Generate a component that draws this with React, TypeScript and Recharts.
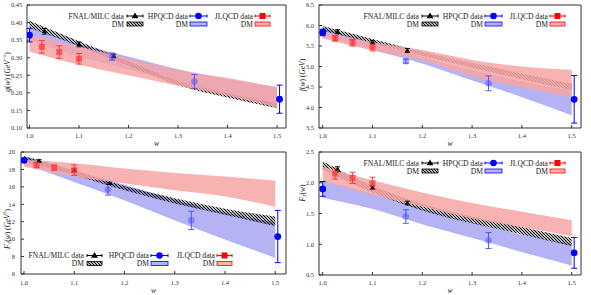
import React from "react";
import { ComposedChart, Area, Scatter, ErrorBar, XAxis, YAxis } from "recharts";

const bandW = [1.0, 1.1, 1.2, 1.3, 1.4, 1.5];
const wTicks = [1.0, 1.1, 1.2, 1.3, 1.4, 1.5];
const fnalW = [1.03, 1.1, 1.17];
const hpqcdW = [1.0, 1.167, 1.333, 1.505];
const jlqcdW = [1.025, 1.06, 1.1];

// g(w)
const gTicks = [0.1, 0.15, 0.2, 0.25, 0.3, 0.35, 0.4, 0.45];
const gFnal = [0.375, 0.338, 0.305];
const gFnalErr = [0.008, 0.007, 0.005];
const gHpqcd = [0.364, 0.303, 0.232, 0.182];
const gHpqcdErr = [0.019, 0.01, 0.02, 0.04];
const gJlqcd = [0.331, 0.316, 0.297];
const gJlqcdErr = [0.018, 0.018, 0.015];
const gFnalBand = [[0.385, 0.405], [0.333, 0.347], [0.277, 0.29], [0.222, 0.234], [0.187, 0.199], [0.157, 0.17]];
const gHpqcdBand = [[0.35, 0.385], [0.305, 0.338], [0.268, 0.302], [0.232, 0.266], [0.198, 0.238], [0.165, 0.216]];
const gJlqcdBand = [[0.318, 0.366], [0.28, 0.332], [0.25, 0.298], [0.22, 0.265], [0.192, 0.242], [0.158, 0.216]];

// f(w)
const fTicks = [3.5, 4.0, 4.5, 5.0, 5.5, 6.0, 6.5];
const fFnal = [5.85, 5.59, 5.39];
const fFnalErr = [0.05, 0.04, 0.05];
const fHpqcd = [5.83, 5.13, 4.59, 4.2];
const fHpqcdErr = [0.08, 0.05, 0.18, 0.58];
const fJlqcd = [5.69, 5.58, 5.48];
const fJlqcdErr = [0.07, 0.08, 0.1];
const fFnalBand = [[5.87, 5.99], [5.57, 5.67], [5.26, 5.36], [4.97, 5.09], [4.69, 4.83], [4.42, 4.58]];
const fHpqcdBand = [[5.77, 5.92], [5.42, 5.57], [5.08, 5.22], [4.67, 4.9], [4.26, 4.62], [3.82, 4.4]];
const fJlqcdBand = [[5.68, 5.84], [5.39, 5.59], [5.15, 5.4], [4.76, 5.16], [4.49, 5.0], [4.25, 4.92]];

// F1(w)
const f1Ticks = [6, 8, 10, 12, 14, 16, 18, 20];
const f1Fnal = [18.97, 17.9, 16.4];
const f1FnalErr = [0.15, 0.15, 0.12];
const f1Hpqcd = [19.05, 15.7, 12.15, 10.3];
const f1HpqcdErr = [0.22, 0.65, 1.05, 3.0];
const f1Jlqcd = [18.5, 18.2, 17.9];
const f1JlqcdErr = [0.3, 0.3, 0.6];
const f1FnalBand = [[18.9, 19.5], [17.35, 17.85], [15.6, 16.1], [14.1, 14.7], [12.8, 13.5], [11.5, 12.6]];
const f1HpqcdBand = [[18.7, 19.5], [16.6, 17.9], [14.5, 16.2], [12.2, 14.5], [10.0, 13.0], [7.9, 11.9]];
const f1JlqcdBand = [[18.3, 19.1], [17.2, 18.7], [16.4, 18.1], [15.6, 17.6], [14.9, 17.2], [13.7, 16.7]];

// F2(w)
const f2Ticks = [0.5, 1.0, 1.5, 2.0, 2.5];
const f2Fnal = [2.22, 1.92, 1.67];
const f2FnalErr = [0.04, 0.03, 0.03];
const f2Hpqcd = [1.9, 1.45, 1.06, 0.86];
const f2HpqcdErr = [0.12, 0.11, 0.13, 0.25];
const f2Jlqcd = [2.15, 2.08, 1.99];
const f2JlqcdErr = [0.09, 0.09, 0.1];
const f2FnalBand = [[2.21, 2.35], [1.84, 1.95], [1.55, 1.66], [1.34, 1.45], [1.16, 1.28], [0.97, 1.1]];
const f2HpqcdBand = [[1.76, 2.03], [1.58, 1.82], [1.33, 1.57], [1.11, 1.35], [0.88, 1.15], [0.66, 1.0]];
const f2JlqcdBand = [[2.03, 2.26], [1.8, 2.04], [1.61, 1.84], [1.42, 1.67], [1.28, 1.53], [1.13, 1.39]];

const AXIS = "#333";
const BLUE = "#0000ff";
const RED = "#ff0000";
const BAND_BLUE = "#8282ee";
const BAND_RED = "#f7a4a4";
const FONT = "'Liberation Serif', 'DejaVu Serif', serif";

const topLegend = {
  rows: [16, 24],
  cols: [
    { tx: 124, x1: 127, x2: 143 },
    { tx: 188, x1: 190, x2: 207 },
    { tx: 253, x1: 255, x2: 270 },
  ],
};
const bottomLegend = {
  rows: [108.5, 116.5],
  cols: [
    { tx: 84, x1: 87, x2: 102 },
    { tx: 149, x1: 151, x2: 168 },
    { tx: 215, x1: 217, x2: 232 },
  ],
};

// black diagonal hatch used for the FNAL/MILC DM band
const GlobalPatterns = () => (
  <svg width={0} height={0} style={{ position: "absolute", left: 0, top: 0 }}>
    <defs>
      <pattern id="dmHatch" width={3} height={3} patternUnits="userSpaceOnUse">
        <path d="M0,0 L3,3 M-1,2 L1,4 M2,-1 L4,1" stroke="#000" strokeWidth={1.1} fill="none" />
      </pattern>
    </defs>
  </svg>
);

const triShape = (s: number, color: string) => (props: any) => {
  const { cx, cy } = props;
  return <path d={`M${cx},${cy - s} L${cx + s * 0.95},${cy + s * 0.6} L${cx - s * 0.95},${cy + s * 0.6} Z`} fill={color} />;
};
const circleShape = (r: number, color: string, op = 1) => (props: any) => (
  <circle cx={props.cx} cy={props.cy} r={r} fill={color} fillOpacity={op} />
);
const squareShape = (s: number, color: string, op = 1) => (props: any) => (
  <rect x={props.cx - s / 2} y={props.cy - s / 2} width={s} height={s} fill={color} fillOpacity={op} />
);

function LegendOverlay({ leg }: { leg: typeof topLegend }) {
  const [r1, r2] = leg.rows;
  const names = ["FNAL/MILC data", "HPQCD data", "JLQCD data"];
  const colors = ["#000", BLUE, RED];
  const fills = ["url(#dmHatch)", BAND_BLUE, BAND_RED];
  const ops = [1, 0.6, 0.85];
  return (
    <g fontFamily={FONT} fontSize={7.6} fill="#222">
      {leg.cols.map((c, i) => {
        const mid = (c.x1 + c.x2) / 2;
        return (
          <g key={i}>
            <text x={c.tx} y={r1} textAnchor="end" dominantBaseline="central">{names[i]}</text>
            <line x1={c.x1} y1={r1} x2={c.x2} y2={r1} stroke={colors[i]} strokeWidth={1} />
            <line x1={c.x1} y1={r1 - 1.5} x2={c.x1} y2={r1 + 1.5} stroke={colors[i]} strokeWidth={1} />
            <line x1={c.x2} y1={r1 - 1.5} x2={c.x2} y2={r1 + 1.5} stroke={colors[i]} strokeWidth={1} />
            {i === 0 && triShape(3.6, "#000")({ cx: mid, cy: r1 })}
            {i === 1 && circleShape(3.3, BLUE)({ cx: mid, cy: r1 })}
            {i === 2 && squareShape(6, RED)({ cx: mid, cy: r1 })}
            <text x={c.tx} y={r2} textAnchor="end" dominantBaseline="central">DM</text>
            <rect x={c.x1} y={r2 - 2} width={c.x2 - c.x1} height={4} fill={fills[i]} fillOpacity={ops[i]} stroke={colors[i]} strokeWidth={0.8} />
          </g>
        );
      })}
    </g>
  );
}

type Cfg = {
  id: string;
  left: number;
  top: number;
  width: number;
  height: number;
  yAxisW: number;
  xAxisH: number;
  yTickMargin: number;
  xTickMargin: number;
  wOffset: number;
  xDomain: [number, number];
  yDomain: [number, number];
  yTicks: number[];
  yDigits: number;
  fnal: number[];
  fnalErr: number[];
  hpqcd: number[];
  hpqcdErr: number[];
  jlqcd: number[];
  jlqcdErr: number[];
  fnalBand: number[][];
  hpqcdBand: number[][];
  jlqcdBand: number[][];
  legend: typeof topLegend;
  yLabel: React.ReactNode;
  yLabelCY: number;
};

function Panel({ p }: { p: Cfg }) {
  const rows = bandW.map((w, i) => ({ w, fnal: p.fnalBand[i], hpqcd: p.hpqcdBand[i], jlqcd: p.jlqcdBand[i] }));
  const mk = (ws: number[], vs: number[], es: number[]) => ws.map((w, i) => ({ w, v: vs[i], e: es[i] }));
  const fnal = mk(fnalW, p.fnal, p.fnalErr);
  const hp = mk(hpqcdW, p.hpqcd, p.hpqcdErr);
  const hpEdge = hp.filter((d) => d.w <= 1.0 || d.w >= 1.5);
  const hpMid = hp.filter((d) => d.w > 1.0 && d.w < 1.5);
  const jl = mk(jlqcdW, p.jlqcd, p.jlqcdErr);
  const tick = { fontSize: 6.5, fill: "#333", fontFamily: FONT };

  return (
    <div style={{ position: "absolute", left: p.left, top: p.top, width: p.width, height: p.height }}>
      <ComposedChart
        width={p.width}
        height={p.height}
        data={rows}
        margin={{ top: 4, right: p.width === 296 ? 9 : 8, bottom: 0, left: 0 }}
      >
        <XAxis
          dataKey="w"
          type="number"
          domain={p.xDomain}
          allowDataOverflow
          ticks={wTicks}
          tickFormatter={(v: number) => v.toFixed(1)}
          height={p.xAxisH}
          tick={tick}
          tickSize={-3}
          tickMargin={p.xTickMargin}
          axisLine={{ stroke: AXIS }}
          tickLine={{ stroke: AXIS }}
          label={{ value: "w", position: "insideBottom", offset: p.wOffset, fontStyle: "italic", fontSize: 7.5, fill: "#222", fontFamily: FONT }}
        />
        <XAxis
          xAxisId="top"
          orientation="top"
          type="number"
          domain={p.xDomain}
          allowDataOverflow
          ticks={wTicks}
          height={1}
          tick={false}
          tickSize={-3}
          axisLine={{ stroke: AXIS }}
          tickLine={{ stroke: AXIS }}
        />
        <YAxis
          type="number"
          domain={p.yDomain}
          allowDataOverflow
          ticks={p.yTicks}
          tickFormatter={(v: number) => v.toFixed(p.yDigits)}
          width={p.yAxisW}
          tick={tick}
          tickSize={-3}
          tickMargin={p.yTickMargin}
          axisLine={{ stroke: AXIS }}
          tickLine={{ stroke: AXIS }}
        />
        <YAxis
          yAxisId="right"
          orientation="right"
          type="number"
          domain={p.yDomain}
          allowDataOverflow
          ticks={p.yTicks}
          width={1}
          tick={false}
          tickSize={-3}
          axisLine={{ stroke: AXIS }}
          tickLine={{ stroke: AXIS }}
        />
        <Area dataKey="hpqcd" type="monotone" fill={BAND_BLUE} fillOpacity={0.6} stroke="#9a9aff" strokeWidth={0.5} isAnimationActive={false} />
        <Area dataKey="fnal" type="monotone" fill="url(#dmHatch)" fillOpacity={1} stroke="none" isAnimationActive={false} />
        <Area dataKey="jlqcd" type="monotone" fill={BAND_RED} fillOpacity={0.85} stroke="none" isAnimationActive={false} />
        <Scatter data={fnal} dataKey="v" shape={triShape(2.6, "#000")} isAnimationActive={false}>
          <ErrorBar dataKey="e" direction="y" width={2.5} stroke="#000" strokeWidth={0.9} />
        </Scatter>
        <Scatter data={jl} dataKey="v" shape={squareShape(6, "#ff3a3a", 0.75)} isAnimationActive={false}>
          <ErrorBar dataKey="e" direction="y" width={3} stroke="#ff3030" strokeWidth={0.9} />
        </Scatter>
        <Scatter data={hpMid} dataKey="v" shape={circleShape(3.3, "#5050ff", 0.5)} isAnimationActive={false}>
          <ErrorBar dataKey="e" direction="y" width={3} stroke="#4848ff" strokeWidth={0.9} />
        </Scatter>
        <Scatter data={hpEdge} dataKey="v" shape={circleShape(3.4, BLUE)} isAnimationActive={false}>
          <ErrorBar dataKey="e" direction="y" width={3} stroke={BLUE} strokeWidth={1} />
        </Scatter>
      </ComposedChart>
      <svg width={p.width} height={p.height} style={{ position: "absolute", left: 0, top: 0, pointerEvents: "none" }}>
        <text
          transform={`translate(7,${p.yLabelCY}) rotate(-90)`}
          textAnchor="middle"
          dominantBaseline="central"
          fontFamily={FONT}
          fontSize={7.5}
          fill="#222"
        >
          {p.yLabel}
        </text>
        <LegendOverlay leg={p.legend} />
      </svg>
    </div>
  );
}

const it = (s: string) => <tspan fontStyle="italic">{s}</tspan>;

const panels: Cfg[] = [
  {
    id: "pg", left: 0, top: 0, width: 295, height: 147, yAxisW: 27, xAxisH: 19,
    yTickMargin: 7.7, xTickMargin: 8.5, wOffset: 1.5,
    xDomain: [0.995, 1.518], yDomain: [0.1, 0.45], yTicks: gTicks, yDigits: 2,
    fnal: gFnal, fnalErr: gFnalErr, hpqcd: gHpqcd, hpqcdErr: gHpqcdErr, jlqcd: gJlqcd, jlqcdErr: gJlqcdErr,
    fnalBand: gFnalBand, hpqcdBand: gHpqcdBand, jlqcdBand: gJlqcdBand,
    legend: topLegend, yLabelCY: 72,
    yLabel: (<>{it("g")}({it("w")}) ({it("GeV")}<tspan dy={-3} fontSize={5}>−1</tspan><tspan dy={3}>)</tspan></>),
  },
  {
    id: "pf", left: 295, top: 0, width: 296, height: 147, yAxisW: 24, xAxisH: 19,
    yTickMargin: 8, xTickMargin: 8.5, wOffset: 1.5,
    xDomain: [0.9926, 1.5187], yDomain: [3.5, 6.5], yTicks: fTicks, yDigits: 1,
    fnal: fFnal, fnalErr: fFnalErr, hpqcd: fHpqcd, hpqcdErr: fHpqcdErr, jlqcd: fJlqcd, jlqcdErr: fJlqcdErr,
    fnalBand: fFnalBand, hpqcdBand: fHpqcdBand, jlqcdBand: fJlqcdBand,
    legend: topLegend, yLabelCY: 75,
    yLabel: (<>{it("f")}({it("w")}) ({it("GeV")})</>),
  },
  {
    id: "pf1", left: 0, top: 147, width: 295, height: 148, yAxisW: 21, xAxisH: 21,
    yTickMargin: 9, xTickMargin: 9.5, wOffset: 2.5,
    xDomain: [0.994, 1.5214], yDomain: [6, 20], yTicks: f1Ticks, yDigits: 0,
    fnal: f1Fnal, fnalErr: f1FnalErr, hpqcd: f1Hpqcd, hpqcdErr: f1HpqcdErr, jlqcd: f1Jlqcd, jlqcdErr: f1JlqcdErr,
    fnalBand: f1FnalBand, hpqcdBand: f1HpqcdBand, jlqcdBand: f1JlqcdBand,
    legend: bottomLegend, yLabelCY: 82,
    yLabel: (<>{it("F")}<tspan dy={2} fontSize={5}>1</tspan><tspan dy={-2}>(</tspan>{it("w")}) ({it("GeV")}<tspan dy={-3} fontSize={5}>2</tspan><tspan dy={3}>)</tspan></>),
  },
  {
    id: "pf2", left: 295, top: 147, width: 296, height: 148, yAxisW: 24, xAxisH: 20,
    yTickMargin: 8, xTickMargin: 8.5, wOffset: 2,
    xDomain: [0.9926, 1.5187], yDomain: [0.5, 2.5], yTicks: f2Ticks, yDigits: 1,
    fnal: f2Fnal, fnalErr: f2FnalErr, hpqcd: f2Hpqcd, hpqcdErr: f2HpqcdErr, jlqcd: f2Jlqcd, jlqcdErr: f2JlqcdErr,
    fnalBand: f2FnalBand, hpqcdBand: f2HpqcdBand, jlqcdBand: f2JlqcdBand,
    legend: topLegend, yLabelCY: 46,
    yLabel: (<>{it("F")}<tspan dy={2} fontSize={5}>2</tspan><tspan dy={-2}>(</tspan>{it("w")})</>),
  },
];

export default function App() {
  return (
    <div style={{ position: "absolute", left: 0, top: 0, width: 591, height: 295, background: "#fff", fontFamily: FONT }}>
      <GlobalPatterns />
      {panels.map((p) => (
        <Panel key={p.id} p={p} />
      ))}
    </div>
  );
}
